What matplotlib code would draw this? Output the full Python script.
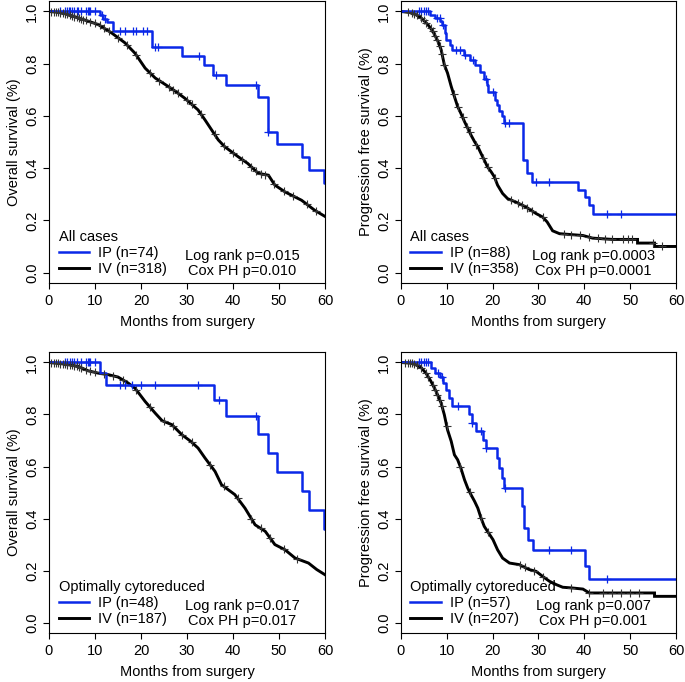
import numpy as np
import matplotlib.pyplot as plt

plt.rcParams['font.family'] = ['Liberation Sans', 'DejaVu Sans']
plt.rcParams['font.size'] = 10.5

# ---- values (months, survival fraction) ----
# Panel A: overall survival, all cases
ip1_t = [0, 11.0, 11.8, 12.6, 13.9, 22.3, 29.0, 33.7, 35.6, 38.4, 45.4, 47.7, 49.6, 55.1, 56.6, 59.7]
ip1_s = [1.0, 0.986, 0.972, 0.958, 0.925, 0.863, 0.831, 0.795, 0.757, 0.718, 0.673, 0.540, 0.491, 0.444, 0.392, 0.344]
ip1_cens = [2.5, 3.4, 4.0, 4.3, 4.6, 5.0, 5.5, 6.0, 6.3, 7.0, 8.0, 8.5, 8.8, 9.0, 10.0, 11.5, 12.2,
            15.4, 16.5, 18.3, 19.0, 20.5, 21.2, 23.1, 23.8, 32.5, 36.3, 45.0, 47.7]
iv1_t = [0, 2, 3.4, 6.3, 8.5, 10.7, 13.6, 16.5, 18.7, 20.9, 23.1, 25.3, 27.5, 29.5, 32.4, 33.9,
         36.8, 38.2, 41.1, 43.2, 45.5, 47.7, 49.1, 51.3, 54.9, 57.8, 60]
iv1_s = [1.0, 0.997, 0.992, 0.976, 0.963, 0.95, 0.918, 0.88, 0.84, 0.783, 0.745, 0.72, 0.694, 0.668,
         0.623, 0.585, 0.508, 0.482, 0.444, 0.418, 0.38, 0.373, 0.335, 0.309, 0.277, 0.238, 0.215]
iv1_cens = [0.5, 1.0, 1.5, 2.0, 2.5, 3.0, 3.5, 4.0, 4.5, 5.0, 5.5, 6.0, 6.5, 7.0, 7.5, 8.0, 9.0, 10.0,
            11.0, 12.0, 13.0, 15.0, 17.0, 19.0, 22.0, 24.0, 26.0, 27.0, 28.0, 30.0, 31.0, 33.0,
            36.0, 38.0, 40.0, 42.0, 44.0, 45.0, 46.0, 47.0, 49.0, 51.0, 53.0, 56.0, 58.0]

# Panel B: progression free survival, all cases
ip2_t = [0, 6.4, 7.5, 8.6, 8.9, 9.7, 9.9, 10.8, 11.1, 13.7, 15.1, 16.2, 17.3, 18.2, 18.7, 19.1,
         20.6, 20.9, 21.5, 22.0, 22.4, 26.6, 27.6, 28.6, 38.6, 40.2, 41.1, 42.0]
ip2_s = [1.0, 0.988, 0.975, 0.963, 0.95, 0.918, 0.89, 0.873, 0.854, 0.835, 0.815, 0.796, 0.77, 0.74,
         0.72, 0.69, 0.66, 0.64, 0.617, 0.6, 0.574, 0.43, 0.38, 0.347, 0.318, 0.29, 0.258, 0.223]
ip2_cens = [4.0, 4.5, 5.0, 5.5, 6.0, 8.0, 8.5, 9.3, 12.0, 13.0, 14.0, 15.8, 18.5, 20.0, 22.8, 23.5,
            29.5, 32.2, 45.0, 47.9]
iv2_t = [0, 2.6, 4.4, 5.9, 7.0, 8.1, 8.8, 9.5, 10.2, 11.0, 11.7, 12.4, 13.1, 13.9, 14.6, 15.3, 16.1,
         16.8, 17.5, 18.2, 18.9, 19.7, 20.4, 21.1, 22.2, 23.3, 25.1, 27.3, 29.5, 30.9, 31.9, 33.1,
         34.6, 39.7, 41.8, 46.2, 51.6, 51.6, 55.3, 55.3, 60]
iv2_s = [1.0, 0.995, 0.976, 0.95, 0.924, 0.886, 0.854, 0.796, 0.764, 0.713, 0.674, 0.636, 0.61, 0.578,
         0.553, 0.527, 0.501, 0.482, 0.456, 0.431, 0.405, 0.386, 0.367, 0.335, 0.303, 0.283, 0.27,
         0.251, 0.226, 0.213, 0.194, 0.16, 0.149, 0.142, 0.132, 0.127, 0.127, 0.113, 0.113, 0.1, 0.1]
iv2_cens = [1.5, 2.5, 3.0, 3.5, 4.5, 5.0, 5.5, 6.5, 7.0, 7.5, 8.0, 8.5, 9.0, 9.5, 11.5, 12.5, 13.5,
            14.5, 15.0, 16.5, 18.0, 19.0, 20.5, 24.0, 25.5, 26.5, 27.5, 28.5, 31.0, 35.5, 37.0,
            39.0, 41.0, 43.0, 44.5, 46.0, 48.5, 49.5, 50.5, 55.0, 57.0]

# Panel C: overall survival, optimally cytoreduced
ip3_t = [0, 11.0, 12.3, 35.8, 38.4, 45.4, 47.7, 49.6, 55.1, 56.6, 59.7]
ip3_s = [1.0, 0.959, 0.914, 0.857, 0.795, 0.725, 0.652, 0.58, 0.507, 0.434, 0.36]
ip3_cens = [3.5, 4.0, 4.5, 5.0, 5.5, 6.0, 7.0, 8.0, 8.5, 8.8, 9.0, 10.0, 15.5, 16.5, 18.0, 20.0,
            23.0, 32.3, 37.0, 45.0]
iv3_t = [0, 3.4, 6.3, 8.5, 10.7, 12.9, 15.0, 17.2, 18.7, 20.9, 23.1, 24.6, 26.7, 28.9, 30.8, 32.4,
         33.9, 36.1, 37.5, 40.4, 42.6, 44.8, 47.0, 49.1, 51.3, 53.5, 56.4, 58.2, 60]
iv3_s = [1.0, 0.994, 0.985, 0.968, 0.959, 0.953, 0.944, 0.921, 0.901, 0.85, 0.805, 0.776, 0.761,
         0.722, 0.697, 0.671, 0.633, 0.581, 0.53, 0.492, 0.44, 0.376, 0.351, 0.3, 0.28, 0.248,
         0.229, 0.204, 0.184]
iv3_cens = [0.5, 1.0, 1.5, 2.0, 2.5, 3.0, 3.5, 4.0, 4.5, 5.0, 5.5, 6.0, 6.5, 7.0, 8.0, 9.0, 10.0,
            12.0, 14.0, 16.0, 19.0, 22.0, 25.0, 27.0, 29.0, 31.0, 35.0, 38.0, 41.0, 44.0, 46.0,
            48.0, 51.0, 54.0]

# Panel D: progression free survival, optimally cytoreduced
ip4_t = [0, 6.5, 7.5, 8.6, 9.3, 9.9, 10.6, 11.1, 14.9, 15.5, 16.3, 17.9, 18.5, 20.9, 21.5, 22.0,
         22.4, 26.5, 26.9, 27.8, 28.8, 40.2, 41.1]
ip4_s = [1.0, 0.978, 0.959, 0.946, 0.92, 0.895, 0.863, 0.834, 0.803, 0.767, 0.735, 0.703, 0.671,
         0.633, 0.594, 0.556, 0.517, 0.447, 0.363, 0.318, 0.28, 0.219, 0.168]
ip4_cens = [4.0, 4.5, 5.0, 5.5, 6.0, 8.2, 9.0, 12.5, 15.5, 17.5, 18.5, 22.7, 32.2, 37.2, 45.0]
iv4_t = [0, 2.6, 4.4, 5.5, 6.6, 7.7, 8.8, 9.5, 10.2, 11.0, 11.7, 12.4, 13.1, 13.9, 14.6, 15.3, 16.1,
         16.8, 17.5, 18.2, 18.9, 20.1, 21.1, 22.2, 23.7, 25.8, 28.0, 29.5, 30.9, 32.4, 33.9, 35.3,
         37.5, 39.7, 41.1, 55.3, 55.3, 60]
iv4_s = [1.0, 0.997, 0.981, 0.959, 0.927, 0.889, 0.844, 0.799, 0.741, 0.697, 0.645, 0.626, 0.594,
         0.549, 0.517, 0.492, 0.466, 0.44, 0.402, 0.37, 0.351, 0.319, 0.28, 0.248, 0.229, 0.223,
         0.204, 0.197, 0.178, 0.159, 0.146, 0.136, 0.133, 0.129, 0.114, 0.114, 0.101, 0.101]
iv4_cens = [1.0, 1.5, 2.0, 2.5, 3.0, 3.5, 4.5, 5.5, 6.0, 7.0, 7.5, 8.0, 8.5, 9.0, 10.0, 13.0, 15.0,
            17.5, 19.0, 26.0, 27.0, 29.0, 31.0, 37.0, 41.0, 44.0, 46.0, 48.0, 50.0, 52.0]

BLUE = '#0a28e8'
OS_LABEL = 'Overall survival (%)'
PFS_LABEL = 'Progression free survival (%)'


def km_panel(ax, ip_t, ip_s, ip_cens, iv_t, iv_s, iv_cens, ylabel, group, ip_n, iv_n, ptext):
    # IP arm: step curve to the end of follow-up
    t = np.array(ip_t + [60.0])
    s = np.array(ip_s + [ip_s[-1]])
    ln_iv, = ax.plot(iv_t, iv_s, color='black', lw=2.1, solid_joinstyle='miter')
    ln_ip, = ax.plot(t, s, color=BLUE, lw=1.8, drawstyle='steps-post')
    idx = np.searchsorted(t, ip_cens, side='right') - 1
    ax.plot(ip_cens, s[idx], ls='none', marker='+', ms=5.5, mew=0.9, color=BLUE)
    ax.plot(iv_cens, np.interp(iv_cens, iv_t, iv_s), ls='none', marker='+', ms=5.5, mew=0.8,
            color='#333333')

    ax.set_xlim(0, 60)
    ax.set_ylim(-0.04, 1.04)
    ax.set_xticks(np.arange(0, 61, 10))
    ax.set_yticks(np.arange(0, 1.01, 0.2))
    ax.set_yticklabels(['%.1f' % v for v in np.arange(0, 1.01, 0.2)], rotation=90, va='center')
    ax.tick_params(direction='out', length=4, width=0.8, pad=3, labelsize=10.5)
    ax.tick_params(axis='x', pad=4)
    for sp in ax.spines.values():
        sp.set_linewidth(0.8)
    ax.set_xlabel('Months from surgery', fontsize=10.5, labelpad=5)
    ax.set_ylabel(ylabel, fontsize=10.5, labelpad=3)

    ax.legend([ln_ip, ln_iv], ['IP (n=%d)' % ip_n, 'IV (n=%d)' % iv_n], title=group,
              loc='lower left', bbox_to_anchor=(0.035, 0.025), borderaxespad=0, borderpad=0,
              frameon=False, fontsize=10.5, title_fontsize=10.5, handlelength=2.1,
              handletextpad=0.6, labelspacing=0.15, alignment='left')
    ax.text(0.70, 0.068, ptext, transform=ax.transAxes, ha='center', va='center',
            fontsize=10.5, linespacing=1.1)


fig = plt.figure(figsize=(6.85, 6.82), dpi=100)
ax1 = fig.add_axes([0.0715, 0.585, 0.403, 0.4135])
ax2 = fig.add_axes([0.585, 0.585, 0.402, 0.4135])
ax3 = fig.add_axes([0.0715, 0.0718, 0.403, 0.412])
ax4 = fig.add_axes([0.585, 0.0718, 0.402, 0.412])

km_panel(ax1, ip1_t, ip1_s, ip1_cens, iv1_t, iv1_s, iv1_cens, OS_LABEL, 'All cases', 74, 318,
         'Log rank p=0.015\nCox PH p=0.010')
km_panel(ax2, ip2_t, ip2_s, ip2_cens, iv2_t, iv2_s, iv2_cens, PFS_LABEL, 'All cases', 88, 358,
         'Log rank p=0.0003\nCox PH p=0.0001')
km_panel(ax3, ip3_t, ip3_s, ip3_cens, iv3_t, iv3_s, iv3_cens, OS_LABEL, 'Optimally cytoreduced',
         48, 187, 'Log rank p=0.017\nCox PH p=0.017')
km_panel(ax4, ip4_t, ip4_s, ip4_cens, iv4_t, iv4_s, iv4_cens, PFS_LABEL, 'Optimally cytoreduced',
         57, 207, 'Log rank p=0.007\nCox PH p=0.001')

fig.savefig('out.png', dpi=100, facecolor='white')
